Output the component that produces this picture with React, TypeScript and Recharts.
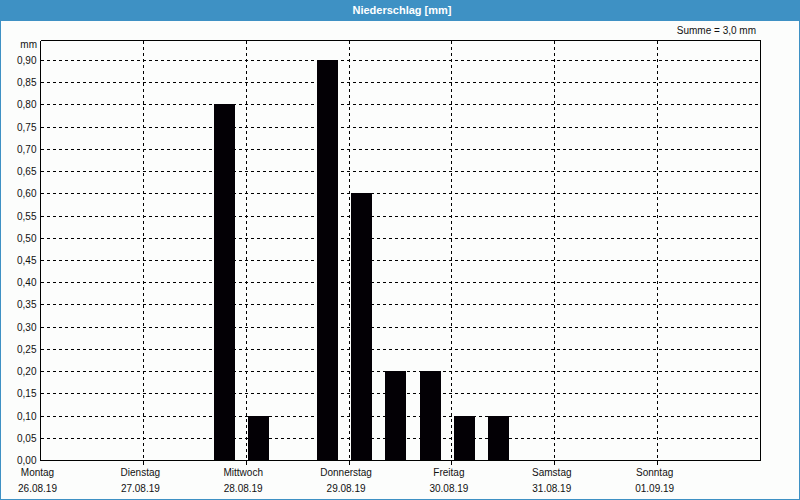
import React from "react"
import {
  BarChart,
  Bar,
  XAxis,
  YAxis,
  CartesianGrid,
  ReferenceLine,
} from "recharts"

// 8-hour slots, Monday 00:00 .. Sunday 24:00
const slotValues = [
  0, 0, 0, 0, 0, 0.8, 0.1, 0, 0.9, 0.6, 0.2, 0.2, 0.1, 0.1, 0, 0, 0, 0, 0, 0, 0,
]
const dayNames = ["Montag", "Dienstag", "Mittwoch", "Donnerstag", "Freitag", "Samstag", "Sonntag"]
const dayDates = ["26.08.19", "27.08.19", "28.08.19", "29.08.19", "30.08.19", "31.08.19", "01.09.19"]
const dayTicks = [0, 3, 6, 9, 12, 15, 18]
const yTicks = [
  0, 0.05, 0.1, 0.15, 0.2, 0.25, 0.3, 0.35, 0.4, 0.45, 0.5, 0.55, 0.6, 0.65, 0.7, 0.75, 0.8, 0.85, 0.9,
]
const Y_MAX = 0.945
const SLOTS = 21
const BAR_SHIFT = 0.37

const data = slotValues.map((v, i) => ({ slot: i + BAR_SHIFT, value: v }))

const FONT = "'Liberation Sans', Arial, sans-serif"
const BLUE = "#3e91c4"

const DayTick = (props: any) => {
  const { x, y, payload, index } = props
  const i = dayTicks.indexOf(payload.value)
  return (
    <g>
      {index > 0 && <line x1={x} x2={x} y1={y - 4} y2={y} stroke="#000" />}
      <text x={x - 3} y={y + 11.5} textAnchor="middle" fontSize={10} fontFamily={FONT} fill="#111">
        {dayNames[i]}
      </text>
      <text x={x - 3} y={y + 27.5} textAnchor="middle" fontSize={10} fontFamily={FONT} fill="#111">
        {dayDates[i]}
      </text>
    </g>
  )
}

export default function App() {
  return (
    <div
      style={{
        position: "fixed",
        left: 0,
        top: 0,
        width: 800,
        height: 500,
        background: "#fcfdfc",
        shapeRendering: "crispEdges",
      }}
    >
      <BarChart
        width={800}
        height={500}
        data={data}
        margin={{ top: 40.5, right: 39.5, bottom: 0, left: 0 }}
      >
        <CartesianGrid stroke="#000" strokeDasharray="3 3" />
        <XAxis
          dataKey="slot"
          type="number"
          domain={[0, SLOTS]}
          ticks={dayTicks}
          interval={0}
          height={39.5}
          tickSize={4}
          tickMargin={0}
          tickLine={false}
          axisLine={{ stroke: "#000" }}
          tick={<DayTick />}
        />
        <YAxis
          type="number"
          domain={[0, Y_MAX]}
          ticks={yTicks}
          interval={0}
          width={40.5}
          tickSize={0}
          tickMargin={4}
          tickLine={false}
          axisLine={{ stroke: "#000" }}
          tick={{ fontSize: 10, fontFamily: FONT, fill: "#111" }}
          tickFormatter={(v: number) => v.toFixed(2).replace(".", ",")}
        />
        <ReferenceLine y={Y_MAX} stroke="#000" />
        <ReferenceLine x={SLOTS} stroke="#000" />
        <Bar
          dataKey="value"
          fill="#030005"
          stroke="#030005"
          strokeWidth={1}
          barSize={20}
          isAnimationActive={false}
        />
      </BarChart>
      <svg
        width={800}
        height={500}
        style={{ position: "absolute", left: 0, top: 0, pointerEvents: "none" }}
      >
        <rect x={0.5} y={0.5} width={799} height={499} fill="none" stroke={BLUE} />
        <rect x={0} y={0} width={800} height={20.5} fill={BLUE} />
        <text x={402} y={13.5} textAnchor="middle" fontSize={11} fontWeight="bold" fontFamily={FONT} fill="#fff">
          Niederschlag [mm]
        </text>
        <text x={756} y={34} textAnchor="end" fontSize={10} fontFamily={FONT} fill="#111">
          Summe = 3,0 mm
        </text>
        <text x={37} y={47.5} textAnchor="end" fontSize={10} fontFamily={FONT} fill="#111">
          mm
        </text>
      </svg>
    </div>
  )
}
